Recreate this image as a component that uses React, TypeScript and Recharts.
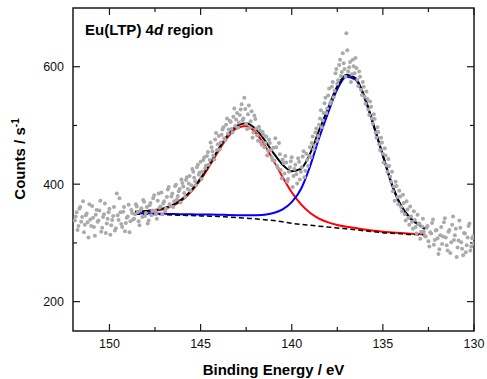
import { ComposedChart, Scatter, Line, XAxis, YAxis, ReferenceArea, ReferenceLine } from 'recharts';

// Raw spectrum, sampled every 0.1 eV on two interleaved grids
const stepEnergy = 0.1;
const startA = 151.9;
const countsA = [
  338, 352, 329, 361, 344, 318, 347, 335, 366, 329,
  343, 312, 356, 338, 372, 326, 349, 317, 341, 358,
  330, 346, 321, 384, 339, 352, 327, 361, 334, 345,
  318, 356, 340,
  349, 362, 337, 355, 344, 370, 351,
  333, 364, 347, 376, 355, 341, 384, 362, 349, 371,
  358, 391, 366, 379, 361, 397, 374, 388, 369, 402,
  385, 407, 392, 414, 398, 421, 405, 429, 416, 438,
  421, 446, 432, 455, 441, 463, 449, 476, 458, 482,
  471, 493, 478, 501, 486, 508, 494, 515, 499, 521,
  505, 527, 509, 547, 503, 519, 496, 524, 488, 511,
  483, 498, 472, 489, 463, 481, 457, 470, 446, 462,
  478, 431, 470, 424, 442, 418, 437, 409, 429, 446,
  414, 433, 401, 438, 421, 447, 412, 452, 431, 463,
  470, 459, 488, 474, 501, 526, 509, 538, 521, 551,
  537, 566, 548, 589, 571, 603, 584, 623, 596, 657,
  592, 608, 587, 601, 615, 578, 592, 561, 574, 549,
  558, 527, 541, 512, 519, 488, 497, 468, 479, 452,
  461, 432, 443, 413, 421,
  396, 404, 378, 389, 361, 382, 349, 371, 343, 362,
  336, 354, 327, 348, 333, 319, 341, 312,
  326, 303, 318, 334, 297, 321, 308, 289, 327, 311,
  342, 296, 319, 283, 331, 305, 324, 292, 338, 301,
  279, 316, 296, 329, 287, 308, 299,
];
const startB = 151.85;
const countsB = [
  345, 322, 358, 336, 371, 331, 350, 309, 340, 363,
  327, 348, 336, 355, 319, 344, 367, 333, 352, 314,
  339, 361, 325, 347, 376, 332, 353, 320, 343, 365,
  337, 351,
  341, 366, 352, 330, 359, 373, 346, 361, 338, 368,
  355, 381, 349, 372, 360, 386, 367, 354, 378, 395,
  363, 384, 371, 399, 380, 392, 408,
  396, 378, 412, 401, 389, 426, 411, 398, 433, 420,
  409, 441, 427, 448, 433, 471, 456, 442, 487, 468,
  459, 484, 497, 475, 512, 493, 506, 488, 529, 510,
  496, 518, 536, 512, 528, 494, 534, 507, 479, 517,
  495, 474, 492, 467, 484, 470, 449, 476, 458, 441,
  440, 463, 427, 451, 410, 436, 448, 404, 421, 439,
  395, 426, 417, 444, 408, 429, 456, 423, 441, 448,
  446, 481, 466, 495, 482, 512, 497, 521, 547, 529,
  563, 541, 574, 559, 596, 577, 612, 591, 606, 583,
  628, 599, 574, 612, 589, 598, 567, 583, 552, 566,
  537, 545, 518, 532, 503, 511, 479, 489, 458, 471,
  437, 449, 421, 431, 404,
  388, 372, 397, 366, 379, 354, 368, 338, 357, 331,
  345, 324, 339, 316, 332, 307, 328, 319,
  311, 329, 294, 316, 340, 305, 322, 281, 313, 298,
  335, 309, 287, 322, 301, 345, 313, 276, 304, 326,
  290, 317, 284, 309, 333, 294, 311,
];

// Fitted components
const fitEnergy = [
  148.6, 148.0, 147.5, 147.0, 146.5, 146.0, 145.5, 145.0, 144.5, 144.0, 143.5,
  143.0, 142.5, 142.0, 141.5, 141.0, 140.5, 140.0, 139.5, 139.0, 138.5, 138.0,
  137.5, 137.0, 136.5, 136.0, 135.5, 135.0, 134.5, 134.0, 133.5, 133.0, 132.7,
];
const background = [
  349, 349, 348.5, 348, 347.5, 347, 346.5, 346, 345.5, 345, 344,
  343, 342, 341, 339.5, 338, 336, 333.5, 331.5, 330, 328.5, 327,
  325.5, 324, 322.5, 320.5, 319, 317.5, 316.5, 315.5, 314.5, 314, 313.5,
];
const peakHigh = [
  351.8, 353.1, 354.6, 357.7, 363.5, 373.1, 387.7, 407.5, 431.7, 457.6, 480.5,
  495.6, 498.9, 488.5, 467.1, 440.1, 412.0, 386.3, 366.0, 351.5, 341.5, 335.0,
  330.6, 327.5, 325.2, 322.7, 320.8, 319.1, 317.9, 316.8, 315.6, 315.0, 314.5,
];
const peakLow = [
  350.2, 350.3, 349.9, 349.6, 349.2, 348.9, 348.6, 348.4, 348.2, 348.1, 347.5,
  347.1, 346.9, 347.2, 348.0, 350.9, 357.1, 369.4, 391.4, 430.0, 478.5, 522.0,
  561.5, 583.0, 578.1, 546.2, 498.7, 448.0, 398.5, 362.5, 341.5, 330.0, 323.5,
];
const envelope = [
  353.0, 354.4, 356.0, 359.3, 365.2, 375.0, 389.8, 409.9, 434.4, 460.7, 484.0,
  499.7, 503.8, 494.7, 475.6, 453.0, 433.1, 422.2, 425.9, 451.5, 491.5, 530.0,
  566.6, 586.5, 580.8, 548.4, 500.5, 449.6, 399.9, 363.8, 342.6, 331.0, 324.5,
];

const xMajor = [150, 145, 140, 135, 130];
const xMinor = [147.5, 142.5, 137.5, 132.5];
const yMajor = [200, 400, 600];
const yMinor = [300, 500];

const X_MIN = 130;
const X_MAX = 152;
const Y_MIN = 150;
const Y_MAX = 700;

const toPoints = (start: number, arr: number[]) =>
  arr.map((c, i) => ({ x: +(start - i * stepEnergy).toFixed(2), y: c }));
const spectrum = [...toPoints(startA, countsA), ...toPoints(startB, countsB)];

const fitRows = fitEnergy.map((e, i) => ({
  x: e,
  bg: background[i],
  high: peakHigh[i],
  low: peakLow[i],
  fit: envelope[i],
}));

const FONT = '"Liberation Sans", Arial, sans-serif';
const AXIS = '#1a1a1a';

// tick lengths in data units (plot is ~401 x 323 px)
const xPerPx = (X_MAX - X_MIN) / 401;
const yPerPx = (Y_MAX - Y_MIN) / 323;

function BottomLabel({ x, y, payload }: any) {
  return (
    <text x={x} y={y + 17} textAnchor="middle" fontFamily={FONT} fontSize={12.5} fill="#111">
      {payload.value}
    </text>
  );
}

function LeftLabel({ x, y, payload }: any) {
  return (
    <text x={x - 9} y={y + 4.5} textAnchor="end" fontFamily={FONT} fontSize={12.5} fill="#111">
      {payload.value}
    </text>
  );
}

const dot = (props: any) => <circle cx={props.cx} cy={props.cy} r={2} fill="#aaaaaa" />;

function tickLines() {
  const out: any[] = [];
  const add = (key: string, seg: any) =>
    out.push(
      <ReferenceLine
        key={key}
        xAxisId="b"
        yAxisId="l"
        segment={seg}
        stroke={AXIS}
        strokeWidth={1.2}
        ifOverflow="visible"
      />,
    );
  const xt = [...xMajor.map((v) => [v, 7]), ...xMinor.map((v) => [v, 4])];
  xt.forEach(([v, len]) => {
    add(`b${v}`, [{ x: v, y: Y_MIN }, { x: v, y: Y_MIN + len * yPerPx }]);
    add(`t${v}`, [{ x: v, y: Y_MAX }, { x: v, y: Y_MAX - len * yPerPx }]);
  });
  const yt = [...yMajor.map((v) => [v, 7]), ...yMinor.map((v) => [v, 4])];
  yt.forEach(([v, len]) => {
    add(`l${v}`, [{ x: X_MAX, y: v }, { x: X_MAX - len * xPerPx, y: v }]);
    add(`r${v}`, [{ x: X_MIN, y: v }, { x: X_MIN + len * xPerPx, y: v }]);
  });
  return out;
}

export default function App() {
  return (
    <div style={{ position: 'absolute', left: 0, top: 0, width: 487, height: 379, background: '#fff' }}>
      <ComposedChart width={487} height={379} margin={{ top: 8, right: 13, bottom: 0, left: 0 }}>
        <XAxis
          xAxisId="b"
          type="number"
          dataKey="x"
          domain={[X_MIN, X_MAX]}
          reversed
          ticks={xMajor}
          interval={0}
          height={48}
          tickSize={0}
          tickMargin={0}
          tickLine={false}
          axisLine={false}
          tick={<BottomLabel />}
          allowDataOverflow
        />
        <YAxis
          yAxisId="l"
          type="number"
          domain={[Y_MIN, Y_MAX]}
          ticks={yMajor}
          interval={0}
          width={73}
          tickSize={0}
          tickMargin={0}
          tickLine={false}
          axisLine={false}
          tick={<LeftLabel />}
          allowDataOverflow
        />
        <Scatter
          xAxisId="b"
          yAxisId="l"
          data={spectrum}
          dataKey="y"
          shape={dot}
          isAnimationActive={false}
        />
        <Line xAxisId="b" yAxisId="l" data={fitRows} dataKey="high" type="monotone" stroke="#ff0000" strokeWidth={2} dot={false} isAnimationActive={false} />
        <Line xAxisId="b" yAxisId="l" data={fitRows} dataKey="low" type="monotone" stroke="#0000ff" strokeWidth={2} dot={false} isAnimationActive={false} />
        <Line xAxisId="b" yAxisId="l" data={fitRows} dataKey="fit" type="monotone" stroke="#000" strokeWidth={2} dot={false} isAnimationActive={false} />
        <Line xAxisId="b" yAxisId="l" data={fitRows} dataKey="bg" type="monotone" stroke="#000" strokeWidth={1.5} strokeDasharray="5 3" dot={false} isAnimationActive={false} />
        {tickLines()}
        <ReferenceArea
          xAxisId="b"
          yAxisId="l"
          x1={X_MIN}
          x2={X_MAX}
          y1={Y_MIN}
          y2={Y_MAX}
          fill="none"
          fillOpacity={0}
          stroke={AXIS}
          strokeWidth={1.5}
          ifOverflow="visible"
        />
      </ComposedChart>
      <svg width={487} height={379} style={{ position: 'absolute', left: 0, top: 0, pointerEvents: 'none' }}>
        <text x={85} y={35} fontFamily={FONT} fontSize={15} fontWeight="bold" fill="#000">
          Eu(LTP) 4<tspan fontStyle="italic">d</tspan> region
        </text>
        <text x={273.5} y={375} textAnchor="middle" fontFamily={FONT} fontSize={15} fontWeight="bold" fill="#000">
          Binding Energy / eV
        </text>
        <text
          transform="translate(25 159) rotate(-90)"
          textAnchor="middle"
          fontFamily={FONT}
          fontSize={15}
          fontWeight="bold"
          fill="#000"
        >
          Counts / s<tspan fontSize={10} dy={-6}>-1</tspan>
        </text>
      </svg>
    </div>
  );
}
